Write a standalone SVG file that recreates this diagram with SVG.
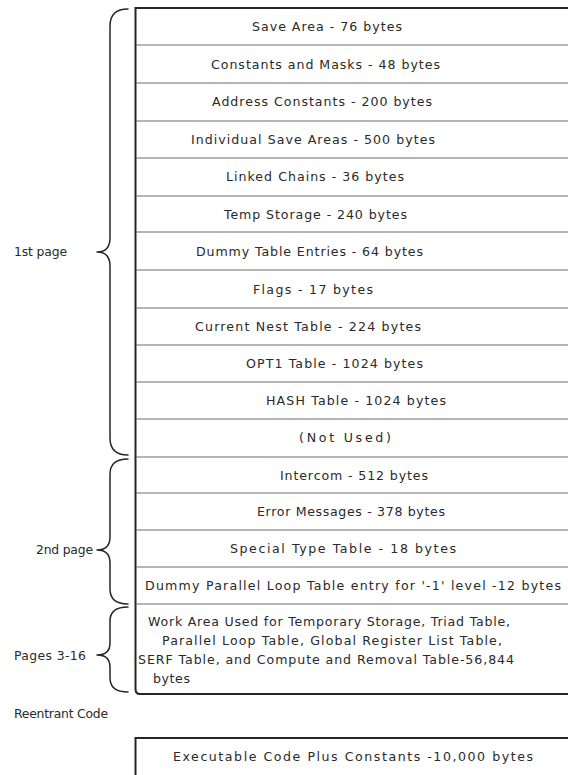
<svg xmlns="http://www.w3.org/2000/svg" width="568" height="775" viewBox="0 0 568 775">
<style>
  text { font-family: "DejaVu Sans", "Liberation Sans", sans-serif; font-size: 12.6px; fill: #2a2a2a; }
  .lbl { font-size: 12.4px; }
  .div { stroke: #6a6a6a; stroke-width: 1; fill: none; }
  .edge { stroke: #262626; stroke-width: 2; fill: none; }
  .brace { stroke: #262626; stroke-width: 1.5; fill: none; stroke-linecap: round; stroke-linejoin: round; }
</style>
<rect width="568" height="775" fill="#ffffff"/>

<g id="frame">
  <line class="edge" x1="135.5" y1="8" x2="568" y2="8"/>
  <path class="edge" d="M135.5 7 L135.5 689 Q135.5 694 140 694 L568 694"/>
  <path class="edge" d="M568 738 L135.5 738 L135.5 775"/>
</g>

<g id="rows">
  <g id="save-area"><text x="252" y="31" textLength="150" lengthAdjust="spacing">Save Area - 76 bytes</text><line class="div" x1="136" y1="45" x2="568" y2="45"/></g>
  <g id="constants-masks"><text x="211" y="68.5" textLength="229" lengthAdjust="spacing">Constants and Masks - 48 bytes</text><line class="div" x1="136" y1="83" x2="568" y2="83"/></g>
  <g id="address-constants"><text x="212" y="106" textLength="220" lengthAdjust="spacing">Address Constants - 200 bytes</text><line class="div" x1="136" y1="121" x2="568" y2="121"/></g>
  <g id="individual-save"><text x="191" y="143.5" textLength="244" lengthAdjust="spacing">Individual Save Areas - 500 bytes</text><line class="div" x1="136" y1="158" x2="568" y2="158"/></g>
  <g id="linked-chains"><text x="226" y="181" textLength="178" lengthAdjust="spacing">Linked Chains - 36 bytes</text><line class="div" x1="136" y1="196" x2="568" y2="196"/></g>
  <g id="temp-storage"><text x="224" y="218.5" textLength="183" lengthAdjust="spacing">Temp Storage - 240 bytes</text><line class="div" x1="136" y1="232" x2="568" y2="232"/></g>
  <g id="dummy-table"><text x="196" y="255.5" textLength="227" lengthAdjust="spacing">Dummy Table Entries - 64 bytes</text><line class="div" x1="136" y1="270" x2="568" y2="270"/></g>
  <g id="flags"><text x="253" y="293.5" textLength="120" lengthAdjust="spacing">Flags - 17 bytes</text><line class="div" x1="136" y1="308" x2="568" y2="308"/></g>
  <g id="current-nest"><text x="195" y="330.5" textLength="226" lengthAdjust="spacing">Current Nest Table - 224 bytes</text><line class="div" x1="136" y1="345" x2="568" y2="345"/></g>
  <g id="opt1-table"><text x="246" y="367.5" textLength="177" lengthAdjust="spacing">OPT1 Table - 1024 bytes</text><line class="div" x1="136" y1="382" x2="568" y2="382"/></g>
  <g id="hash-table"><text x="266" y="405" textLength="180" lengthAdjust="spacing">HASH Table - 1024 bytes</text><line class="div" x1="136" y1="419" x2="568" y2="419"/></g>
  <g id="not-used"><text x="299" y="441.5" textLength="92" lengthAdjust="spacing">(Not Used)</text><line class="div" x1="136" y1="457" x2="568" y2="457"/></g>
  <g id="intercom"><text x="280" y="479.5" textLength="148" lengthAdjust="spacing">Intercom - 512 bytes</text><line class="div" x1="136" y1="493" x2="568" y2="493"/></g>
  <g id="error-messages"><text x="257" y="516" textLength="188" lengthAdjust="spacing">Error Messages - 378 bytes</text><line class="div" x1="136" y1="530" x2="568" y2="530"/></g>
  <g id="special-type"><text x="230" y="553" textLength="226" lengthAdjust="spacing">Special Type Table - 18 bytes</text><line class="div" x1="136" y1="567" x2="568" y2="567"/></g>
  <g id="dummy-parallel"><text x="145" y="590" textLength="416" lengthAdjust="spacing">Dummy Parallel Loop Table entry for '-1' level -12 bytes</text><line class="div" x1="136" y1="604" x2="568" y2="604"/></g>
  <g id="work-area">
    <text x="148" y="626" textLength="362" lengthAdjust="spacing">Work Area Used for Temporary Storage, Triad Table,</text>
    <text x="162" y="645" textLength="340" lengthAdjust="spacing">Parallel Loop Table, Global Register List Table,</text>
    <text x="138" y="664" textLength="376" lengthAdjust="spacing">SERF Table, and Compute and Removal Table-56,844</text>
    <text x="153" y="683" textLength="37" lengthAdjust="spacing">bytes</text>
  </g>
  <g id="executable-code"><text x="173" y="761" textLength="360" lengthAdjust="spacing">Executable Code Plus Constants -10,000 bytes</text></g>
</g>

<g id="braces">
  <path class="brace" d="M128 9 Q110 9 110 26 L110 238 Q110 252 97 252 Q110 252 110 266 L110 438 Q110 455 128 455"/>
  <path class="brace" d="M128 459 Q110 459 110 474 L110 537 Q110 550 97 550 Q110 550 110 563 L110 589 Q110 604 128 604"/>
  <path class="brace" d="M128 607 Q110 607 110 621 L110 643 Q110 655 97 655 Q110 655 110 667 L110 678 Q110 692 128 692"/>
</g>

<g id="labels">
  <text class="lbl" id="first-page" x="14" y="256" textLength="53" lengthAdjust="spacing">1st page</text>
  <text class="lbl" id="second-page" x="36" y="554" textLength="57" lengthAdjust="spacing">2nd page</text>
  <text class="lbl" id="pages-3-16" x="14" y="660" textLength="72" lengthAdjust="spacing">Pages 3-16</text>
  <text class="lbl" id="reentrant" x="14" y="718" textLength="94" lengthAdjust="spacing">Reentrant Code</text>
</g>
</svg>
